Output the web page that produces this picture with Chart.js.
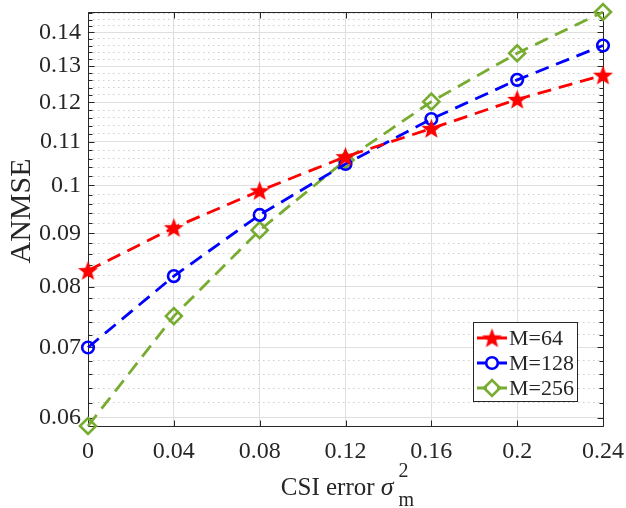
<!DOCTYPE html>
<html><head><meta charset="utf-8">
<script src="https://cdn.jsdelivr.net/npm/chart.js@4/dist/chart.umd.min.js"></script>
<style>html,body{margin:0;padding:0;background:#fff;overflow:hidden}</style>
</head><body>
<canvas id="c" width="626" height="508"></canvas>
<script>
// ---- data ----
const xValues = [0, 0.04, 0.08, 0.12, 0.16, 0.2, 0.24];
const xTickLabels = ['0', '0.04', '0.08', '0.12', '0.16', '0.2', '0.24'];
const seriesLabels = ['M=64', 'M=128', 'M=256'];
const anmseM64  = [0.0829, 0.0911, 0.0988, 0.1065, 0.1133, 0.1208, 0.1274];
const anmseM128 = [0.0700, 0.0819, 0.0937, 0.1048, 0.1157, 0.1261, 0.1360];
const anmseM256 = [0.0589, 0.0750, 0.0906, 0.1057, 0.1202, 0.1337, 0.1464];
const yMajorTicks = [0.06, 0.07, 0.08, 0.09, 0.1, 0.11, 0.12, 0.13, 0.14];
const yTickLabels = ['0.06', '0.07', '0.08', '0.09', '0.1', '0.11', '0.12', '0.13', '0.14'];
const yMinorStep = 0.002;
const yMin = 0.0589, yMax = 0.1464;

const FONT = "'Liberation Serif', 'Times New Roman', serif";
const AXIS = '#262626';

// y ticks: majors + minors every 0.002
const yTickValues = [];
for (let k = Math.ceil(yMin / yMinorStep - 1e-9); k * yMinorStep <= yMax + 1e-12; k++) {
  yTickValues.push(+(k * yMinorStep).toFixed(4));
}
const isMajorY = v => yMajorTicks.some(m => Math.abs(m - v) < 1e-9);
const yLabelFor = v => { const i = yMajorTicks.findIndex(m => Math.abs(m - v) < 1e-9); return i >= 0 ? yTickLabels[i] : ''; };

// filled 5-point star marker
function makeStar(R, color) {
  const c = document.createElement('canvas');
  const s = Math.ceil(R * 2 + 2);
  c.width = s; c.height = s;
  const g = c.getContext('2d');
  const cx = s / 2, cy = s / 2 + R * 0.08, r = R * 0.42;
  g.beginPath();
  for (let i = 0; i < 10; i++) {
    const rad = (i % 2 === 0) ? R : r;
    const a = -Math.PI / 2 + i * Math.PI / 5;
    const px = cx + rad * Math.cos(a), py = cy + rad * Math.sin(a);
    i === 0 ? g.moveTo(px, py) : g.lineTo(px, py);
  }
  g.closePath();
  g.fillStyle = color; g.fill();
  return c;
}
const starImg = makeStar(10.5, '#ff0000');

const DASH = [14, 8];
const datasets = [
  { label: seriesLabels[0], data: anmseM64, borderColor: '#ff0000', backgroundColor: '#ff0000',
    pointStyle: starImg, pointRadius: 10, pointBorderWidth: 0 },
  { label: seriesLabels[1], data: anmseM128, borderColor: '#0000ff', backgroundColor: 'rgba(0,0,0,0)',
    pointStyle: 'circle', pointRadius: 5.8, pointBorderWidth: 2.6 },
  { label: seriesLabels[2], data: anmseM256, borderColor: '#77ac30', backgroundColor: 'rgba(0,0,0,0)',
    pointStyle: 'rectRot', pointRadius: 8, pointBorderWidth: 2.6 }
].map(d => Object.assign({
  borderWidth: 2.8, borderDash: DASH, tension: 0, clip: false, fill: false,
  pointHoverRadius: d.pointRadius, pointBorderColor: d.borderColor,
  pointBackgroundColor: d.backgroundColor,
}, d, { data: d.data.map((y, i) => ({ x: xValues[i], y })) }));

const matlabAxes = {
  id: 'matlabAxes',
  beforeDatasetsDraw(chart) {
    const { ctx, chartArea: a, scales } = chart;
    ctx.save();
    ctx.strokeStyle = AXIS; ctx.lineWidth = 1;
    const L = Math.round(a.left) + 0.5, R = Math.round(a.right) + 0.5;
    const T = Math.round(a.top) + 0.5, B = Math.round(a.bottom) + 0.5;
    ctx.beginPath();
    ctx.rect(L, T, R - L, B - T);
    xValues.forEach(v => {
      const px = Math.round(scales.x.getPixelForValue(v)) + 0.5;
      ctx.moveTo(px, B); ctx.lineTo(px, B - 6);
      ctx.moveTo(px, T); ctx.lineTo(px, T + 6);
    });
    yTickValues.forEach(v => {
      const py = Math.round(scales.y.getPixelForValue(v)) + 0.5;
      const len = isMajorY(v) ? 6 : 4;
      ctx.moveTo(L, py); ctx.lineTo(L + len, py);
      ctx.moveTo(R, py); ctx.lineTo(R - len, py);
    });
    ctx.stroke();
    ctx.restore();
  },
  afterDraw(chart) {
    const { ctx, chartArea: a } = chart;
    ctx.save();
    ctx.fillStyle = AXIS;
    // y title
    ctx.save();
    ctx.translate(22, 211);
    ctx.rotate(-Math.PI / 2);
    ctx.font = '30px ' + FONT;
    ctx.textAlign = 'center'; ctx.textBaseline = 'middle';
    ctx.fillText('ANMSE', 0, 0);
    ctx.restore();
    // x title: CSI error sigma_m^2
    const base = 495;
    const mainFont = '25px ' + FONT, sigFont = 'italic 26px ' + FONT, smallFont = '20px ' + FONT;
    ctx.textBaseline = 'alphabetic'; ctx.textAlign = 'left';
    ctx.font = mainFont; const w1 = ctx.measureText('CSI error ').width;
    ctx.font = sigFont; const w2 = ctx.measureText('\u03C3').width;
    ctx.font = smallFont; const w3 = Math.max(ctx.measureText('m').width, ctx.measureText('2').width);
    const gap = 5;
    const total = w1 + w2 + gap + w3;
    const x0 = (a.left + a.right) / 2 + 2 - total / 2;
    ctx.font = mainFont; ctx.fillText('CSI error ', x0, base);
    ctx.font = sigFont; ctx.fillText('\u03C3', x0 + w1, base);
    ctx.font = smallFont;
    const xs = x0 + w1 + w2 + gap;
    ctx.fillText('2', xs, base - 18);
    ctx.fillText('m', xs, base + 11);
    // legend
    const bx = 473.5, by = 322.5, bw = 104, bh = 79;
    ctx.fillStyle = '#ffffff';
    ctx.fillRect(bx, by, bw, bh);
    ctx.strokeStyle = AXIS; ctx.lineWidth = 1;
    ctx.strokeRect(bx, by, bw, bh);
    chart.data.datasets.forEach((ds, i) => {
      const y = 338 + i * 25;
      ctx.save();
      ctx.strokeStyle = ds.borderColor; ctx.lineWidth = 2.8;
      ctx.beginPath();
      ctx.moveTo(477, y); ctx.lineTo(487, y);
      ctx.moveTo(497, y); ctx.lineTo(507, y);
      ctx.stroke();
      ctx.fillStyle = ds.pointBackgroundColor;
      ctx.strokeStyle = ds.pointBorderColor;
      ctx.lineWidth = ds.pointBorderWidth;
      Chart.helpers.drawPoint(ctx, { pointStyle: ds.pointStyle, radius: ds.pointRadius, borderWidth: ds.pointBorderWidth, rotation: 0 }, 492, y);
      ctx.restore();
      ctx.fillStyle = AXIS;
      ctx.font = '22px ' + FONT;
      ctx.textAlign = 'left'; ctx.textBaseline = 'middle';
      ctx.fillText(ds.label, 509, y + 1);
    });
    ctx.restore();
  }
};

new Chart(document.getElementById('c'), {
  type: 'line',
  data: { datasets },
  options: {
    responsive: false, animation: false, devicePixelRatio: 1,
    layout: { padding: { left: 0, right: 23, top: 12, bottom: 0 } },
    plugins: { legend: { display: false }, tooltip: { enabled: false }, title: { display: false } },
    scales: {
      x: {
        type: 'linear', min: 0, max: 0.24,
        afterBuildTicks: s => { s.ticks = xValues.map(v => ({ value: v })); },
        afterFit: s => { s.height = 82; s.paddingLeft = 0; s.paddingRight = 0; },
        ticks: {
          autoSkip: false, maxRotation: 0, padding: 11, color: AXIS,
          font: { family: FONT, size: 24 },
          callback: v => { const i = xValues.findIndex(m => Math.abs(m - v) < 1e-9); return i >= 0 ? xTickLabels[i] : ''; }
        },
        grid: { color: '#dfdfdf', lineWidth: 1, drawTicks: false },
        border: { display: false }
      },
      y: {
        type: 'logarithmic', min: yMin, max: yMax,
        afterBuildTicks: s => { s.ticks = yTickValues.map(v => ({ value: v, major: isMajorY(v) })); },
        afterFit: s => { s.width = 88; s.paddingTop = 0; s.paddingBottom = 0; },
        ticks: {
          autoSkip: false, padding: 7, color: AXIS,
          font: { family: FONT, size: 24 },
          callback: v => yLabelFor(v)
        },
        grid: {
          color: c => (c.tick && !c.tick.major) ? '#cdcdcd' : '#dfdfdf',
          lineWidth: 1, drawTicks: false
        },
        border: { display: false, dash: c => (c.tick && !c.tick.major) ? [1.5, 3.5] : [] }
      }
    }
  },
  plugins: [matlabAxes]
});
</script>
</body></html>
